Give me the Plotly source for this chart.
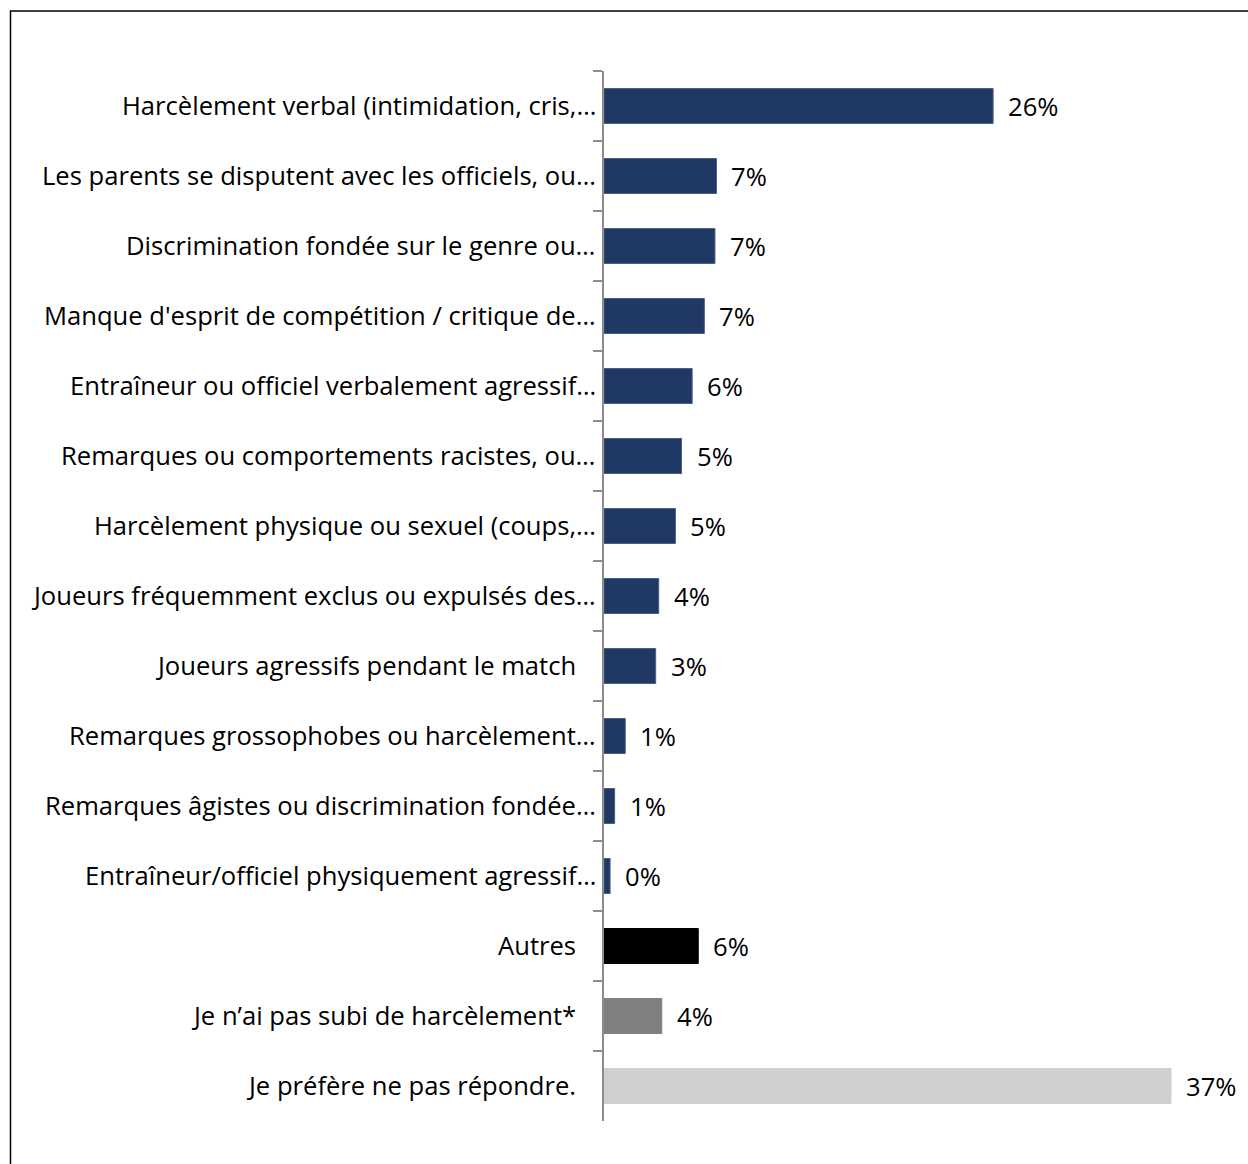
import plotly.graph_objects as go

# Survey responses, top to bottom
categories = [
    "Harcèlement verbal (intimidation, cris,…",
    "Les parents se disputent avec les officiels, ou…",
    "Discrimination fondée sur le genre ou…",
    "Manque d'esprit de compétition / critique de…",
    "Entraîneur ou officiel verbalement agressif…",
    "Remarques ou comportements racistes, ou…",
    "Harcèlement physique ou sexuel (coups,…",
    "Joueurs fréquemment exclus ou expulsés des…",
    "Joueurs agressifs pendant le match",
    "Remarques grossophobes ou harcèlement…",
    "Remarques âgistes ou discrimination fondée…",
    "Entraîneur/officiel physiquement agressif…",
    "Autres",
    "Je n’ai pas subi de harcèlement*",
    "Je préfère ne pas répondre.",
]
values = [25.6, 7.4, 7.3, 6.6, 5.8, 5.1, 4.7, 3.6, 3.4, 1.4, 0.7, 0.4, 6.2, 3.8, 37.3]
truncated = [c.endswith("…") for c in categories]

NAVY = "#203864"
bar_colors = [NAVY] * 12 + ["#000000", "#808080", "#D0CECE"]
edge_colors = ["#4B5F86"] * 12 + ["#000000", "#808080", "#D0CECE"]

FONT = "Open Sans, Lato, sans-serif"
FS = 25.6

fig = go.Figure(
    go.Bar(
        x=values,
        y=categories,
        orientation="h",
        marker=dict(color=bar_colors, line=dict(color=edge_colors, width=1)),
        width=0.5,
        hoverinfo="skip",
    )
)

annotations = []
for cat, val, trunc in zip(categories, values, truncated):
    # category label left of the axis
    annotations.append(dict(
        x=0, y=cat, xref="x", yref="y", text=cat, showarrow=False,
        xanchor="right", yanchor="middle", xshift=-6 if trunc else -26, yshift=1,
        font=dict(family=FONT, size=FS, color="#000000"),
    ))
    # value label after the bar end
    annotations.append(dict(
        x=val, y=cat, xref="x", yref="y", text=f"{val:.0f}%", showarrow=False,
        xanchor="left", yanchor="middle", xshift=13, yshift=0,
        font=dict(family=FONT, size=FS, color="#000000"),
    ))

L, R, T, B = 604, 36, 71, 43
W, H = 1248, 1164
pw, ph = W - L - R, H - T - B

fig.update_layout(
    width=W, height=H,
    margin=dict(l=L, r=R, t=T, b=B),
    paper_bgcolor="#FFFFFF", plot_bgcolor="#FFFFFF",
    showlegend=False,
    annotations=annotations,
    xaxis=dict(range=[0, 40], visible=False, fixedrange=True),
    yaxis=dict(
        autorange="reversed",
        showticklabels=False,
        showline=True, linecolor="#8C8C8C", linewidth=2,
        ticks="outside", ticklen=9, tickwidth=2, tickcolor="#8C8C8C",
        tickson="boundaries",
        showgrid=False, zeroline=False,
    ),
    shapes=[dict(
        type="rect", xref="paper", yref="paper",
        x0=(10.5 - L) / pw, x1=(W + 20 - L) / pw,
        y0=-(B + 20) / ph, y1=1 + (T - 11) / ph,
        line=dict(color="#000000", width=1.5), fillcolor="rgba(0,0,0,0)",
        layer="below",
    )],
)

fig.write_html("out.html")
